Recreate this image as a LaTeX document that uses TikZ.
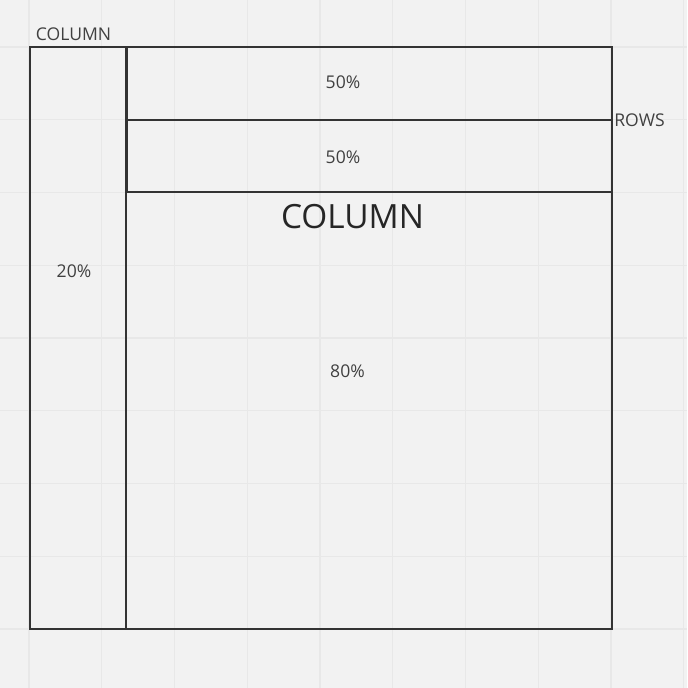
\documentclass[tikz,border=0pt]{standalone}
\usepackage{fontspec}
\setmainfont{Open Sans}

\begin{document}
\begin{tikzpicture}[x=0.02cm, y=-0.02cm,
  frame/.style={draw=black!80, line width=1.1pt},
  gridline/.style={draw=black!9, line width=0.7pt},
  lbl/.style={text=black!75, inner sep=0pt, font=\fontsize{10}{12}\selectfont},
  biglbl/.style={text=black!85, inner sep=0pt, font=\fontsize{19}{23}\selectfont}]
  \fill[black!5] (0,0) rectangle (687,688);
  \useasboundingbox (0,0) rectangle (687,688);
  % background grid
  \foreach \k in {0,...,9} {
    \draw[gridline] ({29+72.75*\k},0) -- ({29+72.75*\k},688);
    \draw[gridline] (0,{47+72.75*\k}) -- (687,{47+72.75*\k});
  }
  \coordinate (TL) at (30,47);
  \coordinate (BR) at (612,629);
  \coordinate (ST) at (126,47);
  \coordinate (SB) at (126,629);
  \coordinate (RL) at (127,120);
  \coordinate (RR) at (612,120);
  \coordinate (BL) at (127,192);
  \coordinate (BRt) at (612,192);
  \draw[frame] (TL) rectangle (BR);
  \draw[frame] (ST) -- (SB);
  \draw[frame] (ST -| RL) -- (BL);
  \draw[frame] (RL) -- (RR);
  \draw[frame] (BL) -- (BRt);
  \node[lbl]               (colsmall) at (73.5,34)  {COLUMN};
  \node[lbl, anchor=west]  (rows)     at (614,120)  {ROWS};
  \node[lbl]               (rowa)     at (343,82)   {50\%};
  \node[lbl]               (rowb)     at (343,157)  {50\%};
  \node[biglbl]            (colbig)   at (352.5,217) {COLUMN};
  \node[lbl]               (left)     at (74,271)   {20\%};
  \node[lbl]               (right)    at (347.5,371.5) {80\%};
\end{tikzpicture}
\end{document}
